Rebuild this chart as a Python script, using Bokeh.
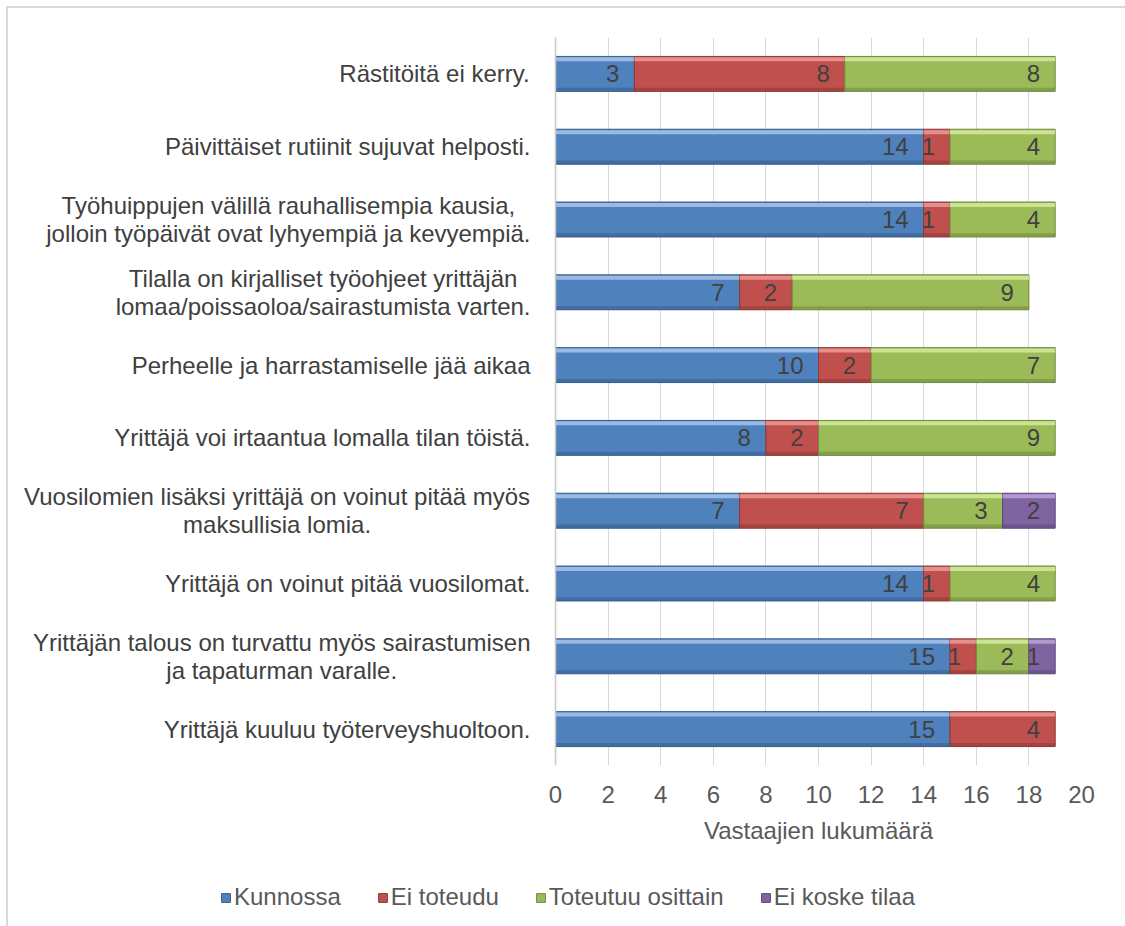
from bokeh.plotting import figure
from bokeh.layouts import column
from bokeh.models import (ColumnDataSource, FactorRange, Range1d, FixedTicker,
                          Legend, LegendItem, Span)
from bokeh.transform import dodge
from bokeh.core.properties import value
from bokeh.embed import file_html
from bokeh.resources import INLINE

categories = [
    "Rästitöitä ei kerry.",
    "Päivittäiset rutiinit sujuvat helposti.",
    "Työhuippujen välillä rauhallisempia kausia,\njolloin työpäivät ovat lyhyempiä ja kevyempiä.",
    "Tilalla on kirjalliset työohjeet yrittäjän\nlomaa/poissaoloa/sairastumista varten.",
    "Perheelle ja harrastamiselle jää aikaa",
    "Yrittäjä voi irtaantua lomalla tilan töistä.",
    "Vuosilomien lisäksi yrittäjä on voinut pitää myös\nmaksullisia lomia.",
    "Yrittäjä on voinut pitää vuosilomat.",
    "Yrittäjän talous on turvattu myös sairastumisen\nja tapaturman varalle.",
    "Yrittäjä kuuluu työterveyshuoltoon.",
]
series_names = ["Kunnossa", "Ei toteudu", "Toteutuu osittain", "Ei koske tilaa"]
kunnossa = [3, 14, 14, 7, 10, 8, 7, 14, 15, 15]
ei_toteudu = [8, 1, 1, 2, 2, 2, 7, 1, 1, 4]
toteutuu_osittain = [8, 4, 4, 9, 7, 9, 3, 4, 2, 0]
ei_koske = [0, 0, 0, 0, 0, 0, 2, 0, 1, 0]
x_ticks = [0, 2, 4, 6, 8, 10, 12, 14, 16, 18, 20]
x_title = "Vastaajien lukumäärä"

series_values = [kunnossa, ei_toteudu, toteutuu_osittain, ei_koske]
base_colors = ["#4F81BD", "#C0504D", "#9BBB59", "#8064A2"]
light_colors = ["#A7C4EA", "#EB9A98", "#D3EA9E", "#B9A5D4"]
dark_colors = ["#385D8A", "#8C3836", "#71893F", "#5C4776"]

FONT = "Liberation Sans"
FS_PX = 24
FS = f"{FS_PX}px"

# layout (pixels)
W = 1117
TOP_PAD = 29
FRAME_H = 728
BOTTOM_PAD = 47
H_MAIN = TOP_PAD + FRAME_H + BOTTOM_PAD
H_LEG = 918 - H_MAIN
LEFT_PAD = 547      # space left of the value axis zero line
RIGHT_PAD = 44
PLOT_W = W - LEFT_PAD - RIGHT_PAD
x_min, x_max = x_ticks[0], x_ticks[-1]
ppu = PLOT_W / (x_max - x_min)
x_start = x_min - LEFT_PAD / ppu
TITLE_CENTER_PX = 18      # from top of the lower strip
LEGEND_BOTTOM_PX = 15     # from bottom of the lower strip
LEGEND_LEFT_PX = 212

# Arial / Liberation Sans advance widths (1/1000 em)
AW = {" ": 278, ",": 278, ".": 278, "/": 278, "a": 556, "b": 556, "c": 500, "d": 556,
      "e": 556, "f": 278, "g": 556, "h": 556, "i": 222, "j": 222, "k": 500, "l": 222,
      "m": 833, "n": 556, "o": 556, "p": 556, "q": 556, "r": 333, "s": 500, "t": 278,
      "u": 556, "v": 500, "w": 722, "x": 500, "y": 500, "z": 500, "ä": 556, "ö": 556,
      "T": 611, "J": 500, "Y": 667, "V": 667, "R": 722, "P": 667, "K": 667, "E": 667}


def text_w(s):
    return sum(AW.get(ch, 556) for ch in s) * FS_PX / 1000.0


p = figure(
    width=W, height=H_MAIN,
    y_range=FactorRange(*reversed(categories)),
    x_range=Range1d(x_start, x_max),
    output_backend="svg", toolbar_location=None,
    min_border_left=0, min_border_right=RIGHT_PAD,
    min_border_top=TOP_PAD, min_border_bottom=BOTTOM_PAD,
)
p.outline_line_color = None
p.background_fill_color = "white"
p.border_fill_color = "white"
p.yaxis.visible = False

p.xgrid.grid_line_color = "#d9d9d9"
p.xgrid.grid_line_width = 1
p.ygrid.grid_line_color = None
p.add_layout(Span(location=x_min, dimension="height", line_color="#c8c8c8", line_width=1.5))

lab_x, lab_y, lab_t = [], [], []
cum = [0] * len(categories)
starts_per_series = []
for name, vals, c, lc, dc in zip(series_names, series_values, base_colors, light_colors, dark_colors):
    starts_per_series.append(list(cum))
    cats, lefts, rights = [], [], []
    for cat, v, s in zip(categories, vals, cum):
        if v > 0:
            cats.append(cat)
            lefts.append(s)
            rights.append(s + v)
            lab_x.append(s + v)
            lab_y.append(cat)
            lab_t.append(str(v))
    cum = [a + b for a, b in zip(cum, vals)]
    src = ColumnDataSource(dict(cat=cats, left=lefts, right=rights))
    p.hbar(y="cat", left="left", right="right", height=0.48, source=src,
           fill_color=c, line_color=dc, line_width=1)
    p.hbar(y=dodge("cat", 0.2, range=p.y_range), left="left", right="right",
           height=0.055, source=src, fill_color=lc, fill_alpha=0.85, line_color=None)
    p.hbar(y=dodge("cat", -0.215, range=p.y_range), left="left", right="right",
           height=0.05, source=src, fill_color=dc, fill_alpha=0.55, line_color=None)

# value labels (inside end)
lsrc = ColumnDataSource(dict(x=lab_x, y=lab_y, t=lab_t))
p.text(x="x", y="y", text="t", source=lsrc, x_offset=-15, text_align="right",
       text_baseline="middle", text_font=value(FONT), text_font_size=FS,
       text_color="#404040")

# category labels: right edge 25px left of zero line, multi-line blocks centred
STANDOFF = 25
c_x, c_y, c_t, c_off = [], [], [], []
for cat in categories:
    lines = cat.split("\n")
    w = max(text_w(l) for l in lines)
    c_x.append(x_min)
    c_y.append(cat)
    c_t.append(cat)
    c_off.append(-(STANDOFF + w / 2.0))
csrc = ColumnDataSource(dict(x=c_x, y=c_y, t=c_t, off=c_off))
p.text(x="x", y="y", text="t", source=csrc, x_offset="off", text_align="center",
       text_baseline="middle", text_line_height=1.05, text_font=value(FONT),
       text_font_size=FS, text_color="#404040")

# x axis (tick labels only; title drawn centred under the 0..20 span below)
p.xaxis.ticker = FixedTicker(ticks=x_ticks)
p.xaxis.bounds = (x_min, x_max)
p.xaxis.axis_line_color = None
p.xaxis.major_tick_line_color = None
p.xaxis.minor_tick_line_color = None
p.xaxis.major_label_standoff = 14
p.xaxis.major_label_text_font = FONT
p.xaxis.major_label_text_font_size = FS
p.xaxis.major_label_text_color = "#595959"

# lower strip: axis title + legend, same horizontal scale as the chart
lf = figure(width=W, height=H_LEG, x_range=Range1d(x_start, x_max),
            y_range=Range1d(0, len(categories)),
            output_backend="svg", toolbar_location=None,
            min_border_left=0, min_border_right=RIGHT_PAD, min_border_top=0,
            min_border_bottom=0)
lf.axis.visible = False
lf.grid.grid_line_color = None
lf.outline_line_color = None
lf.border_fill_color = "white"
lf.background_fill_color = "white"

tsrc = ColumnDataSource(dict(x=[(x_min + x_max) / 2.0], y=[len(categories)], t=[x_title]))
lf.text(x="x", y="y", text="t", source=tsrc, y_offset=TITLE_CENTER_PX,
        text_align="center", text_baseline="middle", text_font=value(FONT),
        text_font_size=FS, text_color="#595959")

items = []
rows = list(range(len(categories)))
for name, vals, starts, c, dc in zip(series_names, series_values, starts_per_series,
                                     base_colors, dark_colors):
    r = lf.hbar(y=rows, left=starts, right=[s + v for s, v in zip(starts, vals)],
                height=0.5, fill_color=c, line_color=dc, line_width=1)
    r.visible = False
    items.append(LegendItem(label=name, renderers=[r]))
legend = Legend(
    items=items, orientation="horizontal", location=(LEGEND_LEFT_PX, LEGEND_BOTTOM_PX),
    glyph_width=11, glyph_height=11, label_standoff=3, spacing=36,
    padding=2, margin=0, border_line_color=None, background_fill_alpha=0,
    inactive_fill_alpha=0, click_policy="none",
    label_text_font=FONT, label_text_font_size=FS, label_text_color="#595959",
)
lf.add_layout(legend, "center")

layout = column(p, lf, spacing=0)
layout.margin = (6, 0, 0, 6)
layout.styles = {"border-left": "2px solid #d9d9d9", "border-top": "2px solid #d9d9d9",
                 "box-sizing": "border-box"}

open("out.html", "w").write(file_html(layout, INLINE))
